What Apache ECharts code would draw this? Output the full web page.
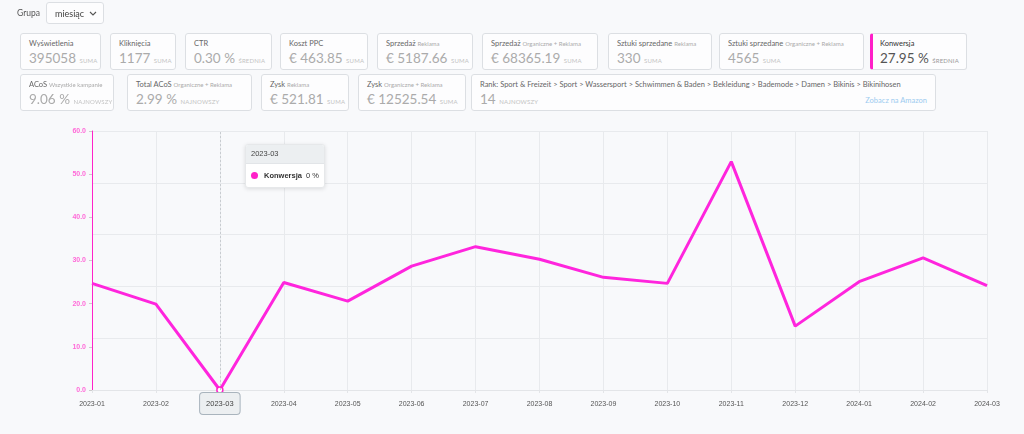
<!DOCTYPE html>
<html>
<head>
<meta charset="utf-8">
<script src="https://cdn.jsdelivr.net/npm/echarts@6/dist/echarts.min.js"></script>
<style>
  html, body { margin:0; padding:0; width:1024px; height:434px; overflow:hidden; background:#f8f9fb; font-family: "Lato", "Open Sans", sans-serif; }
  #chart { position:absolute; left:0; top:0; width:1024px; height:434px; }
  .card { position:absolute; height:37px; background:#fdfdfe; border:1px solid #dcdfe3; border-radius:3px; box-sizing:border-box; z-index:2; }
  .card .t { position:absolute; left:8px; top:5px; font-size:7.5px; line-height:10px; color:#666; white-space:nowrap; }
  .card .t span { color:#aaa; font-size:6px; }
  .card .v { position:absolute; left:8px; top:16px; font-size:13.5px; line-height:16px; color:#ababab; white-space:nowrap; }
  .card .v span { font-size:6px; color:#c3c3c3; letter-spacing:0.2px; }
  .card.active { border-left:3px solid #ff1fc8; }
  .card.active .t { color:#333; left:7px; }
  .card.active .v { color:#555; left:7px; }
  .card.active .v span { color:#999; }
  #grupa { position:absolute; left:17px; top:8px; font-size:8.5px; color:#555; }
  #sel { position:absolute; left:46px; top:2px; width:58px; height:22px; box-sizing:border-box; border:1px solid #dcdfe3; border-radius:3px; background:#fdfdfe; font-size:9px; color:#444; }
  #sel .txt { position:absolute; left:8px; top:5px; }
  #sel svg { position:absolute; left:42px; top:8px; }
  .amz { position:absolute; right:8px; top:21px; font-size:7.5px; color:#9ccbf0; }
</style>
</head>
<body>
<div id="chart"></div>
<div id="grupa">Grupa</div>
<div id="sel"><span class="txt">miesiąc</span><svg width="8" height="6" viewBox="0 0 8 6"><polyline points="1,1 4,4 7,1" fill="none" stroke="#555" stroke-width="1.1"/></svg></div>
<div id="cards"></div>
<script>
// ---- data ----
var categories = ['2023-01','2023-02','2023-03','2023-04','2023-05','2023-06','2023-07','2023-08','2023-09','2023-10','2023-11','2023-12','2024-01','2024-02','2024-03'];
var konwersja = [24.7, 19.9, 0, 24.9, 20.6, 28.7, 33.2, 30.3, 26.1, 24.7, 52.9, 14.8, 25.1, 30.6, 24.2];
var seriesName = 'Konwersja';
var yMin = 0, yMax = 60, yInterval = 10;

var cardTitles = ['Wyświetlenia','Kliknięcia','CTR','Koszt PPC','Sprzedaż','Sprzedaż','Sztuki sprzedane','Sztuki sprzedane','Konwersja',
                  'ACoS','Total ACoS','Zysk','Zysk','Rank: Sport & Freizeit > Sport > Wassersport > Schwimmen & Baden > Bekleidung > Bademode > Damen > Bikinis > Bikinihosen'];
var cardSubtitles = ['','','','','Reklama','Organiczne + Reklama','Reklama','Organiczne + Reklama','',
                     'Wszystkie kampanie','Organiczne + Reklama','Reklama','Organiczne + Reklama',''];
var cardValues = ['395058','1177','0.30 %','€ 463.85','€ 5187.66','€ 68365.19','330','4565','27.95 %',
                  '9.06 %','2.99 %','€ 521.81','€ 12525.54','14'];
var cardUnits = ['SUMA','SUMA','ŚREDNIA','SUMA','SUMA','SUMA','SUMA','SUMA','ŚREDNIA',
                 'NAJNOWSZY','NAJNOWSZY','SUMA','SUMA','NAJNOWSZY'];

// ---- card layout ----
var cardBoxes = [[20,101,33],[110,176,33],[185,272,33],[280,368,33],[377,473,33],[482,598,33],[608,712,33],[719,864,33],[870,967,33],
                 [20,114,74],[127,252,74],[261,349,74],[358,466,74],[471,936,74]];
var cardsEl = document.getElementById('cards');
cardTitles.forEach(function(t, i){
  var b = cardBoxes[i];
  var d = document.createElement('div');
  d.className = 'card' + (i === 8 ? ' active' : '');
  d.style.left = b[0] + 'px'; d.style.top = b[2] + 'px'; d.style.width = (b[1]-b[0]) + 'px';
  var t1 = document.createElement('div'); t1.className = 't';
  t1.textContent = t + ' ';
  if (cardSubtitles[i]) { var s = document.createElement('span'); s.textContent = cardSubtitles[i]; t1.appendChild(s); }
  var v = document.createElement('div'); v.className = 'v';
  v.textContent = cardValues[i] + ' ';
  var u = document.createElement('span'); u.textContent = cardUnits[i]; v.appendChild(u);
  d.appendChild(t1); d.appendChild(v);
  if (i === 13) { var a = document.createElement('div'); a.className = 'amz'; a.textContent = 'Zobacz na Amazon'; d.appendChild(a); }
  cardsEl.appendChild(d);
});

// ---- chart ----
var pink = '#ff22c9';
var chart = echarts.init(document.getElementById('chart'));
chart.setOption({
  animation: false,
  backgroundColor: 'transparent',
  textStyle: { fontFamily: 'Liberation Sans, Arial, sans-serif' },
  grid: { left: 92, right: 37, top: 131, bottom: 44 },
  tooltip: {
    trigger: 'axis',
    triggerOn: 'none',
    alwaysShowContent: true,
    transitionDuration: 0,
    position: [245, 144],
    padding: 0,
    borderColor: '#e6e8ea',
    borderWidth: 1,
    backgroundColor: '#ffffff',
    extraCssText: 'box-shadow:0 1px 4px rgba(0,0,0,0.12);border-radius:3px;overflow:hidden;line-height:10px;',
    axisPointer: {
      type: 'line',
      lineStyle: { color: '#c8ccd0', type: [2, 2], width: 1 },
      label: { show: true, backgroundColor: '#eceff1', borderColor: '#a9b4bd', borderWidth: 1, color: '#444', fontSize: 7.5, padding: [7, 6, 6, 6], margin: 3 }
    },
    formatter: function (p) {
      var it = p[0];
      return '<div style="width:78px;font-family:Liberation Sans,Arial,sans-serif;line-height:10px;">' +
        '<div style="background:#eceff1;padding:4px 5px;height:10px;font-size:7.5px;line-height:10px;color:#444;border-bottom:1px solid #e2e5e8;">' + it.axisValue + '</div>' +
        '<div style="padding:7px 5px 6px 5px;height:10px;font-size:7.5px;line-height:10px;color:#333;white-space:nowrap;">' +
        '<span style="display:inline-block;width:7px;height:7px;border-radius:50%;background:' + pink + ';vertical-align:-1px;margin-right:6px;"></span>' +
        '<b>' + it.seriesName + '</b>&nbsp;&nbsp;' + it.value + ' %</div></div>';
    }
  },
  xAxis: {
    type: 'category',
    data: categories,
    boundaryGap: false,
    axisLine: { lineStyle: { color: '#e3e5e8' } },
    axisTick: { show: true, alignWithLabel: true, length: 3, lineStyle: { color: '#e3e5e8' } },
    axisLabel: { color: '#555', fontSize: 7, margin: 11 },
    splitLine: { show: true, lineStyle: { color: '#e8eaed', width: 1 } }
  },
  yAxis: [{
    type: 'value',
    min: yMin, max: yMax, interval: yInterval,
    position: 'left',
    axisLine: { show: true, lineStyle: { color: pink, width: 1 } },
    axisTick: { show: true, length: 3, lineStyle: { color: '#ccc' } },
    axisLabel: { color: '#ff6ad8', fontSize: 7, fontWeight: 'bold', margin: 6, formatter: function (v) { return v.toFixed(1); } },
    splitLine: { show: false }
  }, {
    type: 'value',
    min: yMin, max: yMax, interval: 12,
    position: 'left',
    axisLine: { show: false },
    axisTick: { show: false },
    axisLabel: { show: false },
    splitLine: { show: true, lineStyle: { color: '#e8eaed', width: 1 } }
  }],
  series: [{
    name: seriesName,
    type: 'line',
    data: konwersja,
    showSymbol: false,
    symbol: 'circle',
    symbolSize: 6,
    itemStyle: { color: pink, borderColor: pink },
    lineStyle: { color: pink, width: 3 },
    emphasis: { scale: false, itemStyle: { color: '#fff', borderColor: pink, borderWidth: 1.5 }, lineStyle: { width: 3 } }
  }]
});
chart.dispatchAction({ type: 'showTip', seriesIndex: 0, dataIndex: 2 });
</script>
</body>
</html>
